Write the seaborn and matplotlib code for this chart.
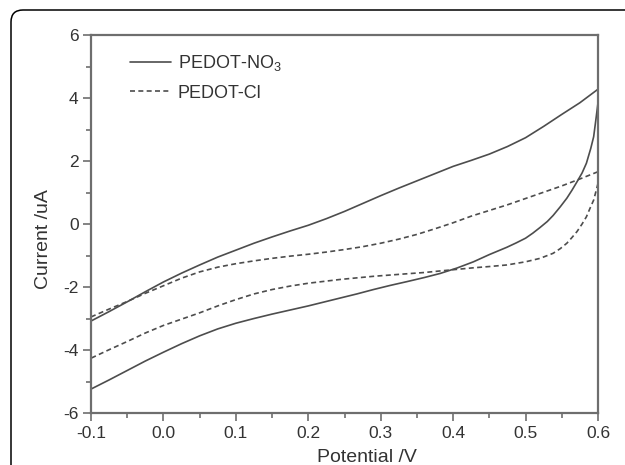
import pandas as pd
import seaborn as sns
import matplotlib.pyplot as plt
from matplotlib.patches import FancyBboxPatch
from matplotlib.ticker import MultipleLocator

# cyclic voltammograms: anodic sweep, then cathodic sweep back
no3_fwd_v = [-0.1, -0.075, -0.05, -0.025, 0.0, 0.025, 0.05, 0.075, 0.1, 0.125, 0.15, 0.175, 0.2,
             0.225, 0.25, 0.275, 0.3, 0.325, 0.35, 0.375, 0.4, 0.425, 0.45, 0.475, 0.5, 0.525,
             0.55, 0.575, 0.6]
no3_fwd_i = [-3.08, -2.78, -2.47, -2.15, -1.84, -1.56, -1.30, -1.05, -0.83, -0.61, -0.41, -0.22,
             -0.04, 0.17, 0.40, 0.65, 0.90, 1.14, 1.37, 1.60, 1.83, 2.02, 2.22, 2.46, 2.74, 3.10,
             3.48, 3.85, 4.28]
no3_ret_v = [0.6, 0.597, 0.594, 0.59, 0.584, 0.578, 0.571, 0.564, 0.557, 0.548, 0.538, 0.53, 0.52,
             0.51, 0.5, 0.487, 0.474, 0.45, 0.428, 0.405, 0.382, 0.36, 0.336, 0.313, 0.29, 0.267,
             0.244, 0.2, 0.15, 0.125, 0.1, 0.075, 0.05, 0.025, 0.0, -0.025, -0.05, -0.075, -0.1]
no3_ret_i = [3.85, 3.30, 2.77, 2.40, 1.93, 1.62, 1.34, 1.07, 0.82, 0.55, 0.27, 0.08, -0.11,
             -0.29, -0.45, -0.60, -0.74, -0.97, -1.20, -1.40, -1.57, -1.70, -1.83, -1.95, -2.08,
             -2.22, -2.35, -2.60, -2.86, -3.00, -3.15, -3.33, -3.55, -3.80, -4.07, -4.35, -4.65,
             -4.95, -5.24]

cl_fwd_v = [-0.1, -0.075, -0.05, -0.025, 0.0, 0.025, 0.05, 0.075, 0.1, 0.125, 0.15, 0.175, 0.2,
            0.225, 0.25, 0.275, 0.3, 0.325, 0.35, 0.375, 0.4, 0.425, 0.45, 0.475, 0.5, 0.525,
            0.55, 0.575, 0.6]
cl_fwd_i = [-2.95, -2.70, -2.46, -2.20, -1.96, -1.72, -1.52, -1.37, -1.26, -1.17, -1.09, -1.02,
            -0.96, -0.89, -0.81, -0.72, -0.61, -0.48, -0.33, -0.15, 0.04, 0.25, 0.43, 0.61, 0.81,
            1.01, 1.21, 1.43, 1.66]
cl_ret_v = [0.6, 0.597, 0.594, 0.589, 0.584, 0.578, 0.571, 0.564, 0.557, 0.548, 0.538, 0.52, 0.5,
            0.474, 0.45, 0.428, 0.405, 0.382, 0.36, 0.336, 0.313, 0.29, 0.267, 0.244, 0.2, 0.175,
            0.15, 0.125, 0.1, 0.075, 0.05, 0.025, 0.0, -0.025, -0.05, -0.075, -0.1]
cl_ret_i = [1.29, 1.02, 0.76, 0.50, 0.23, 0.00, -0.24, -0.43, -0.61, -0.78, -0.93, -1.09, -1.20,
            -1.30, -1.35, -1.39, -1.44, -1.49, -1.54, -1.58, -1.62, -1.66, -1.71, -1.76, -1.88,
            -1.97, -2.08, -2.22, -2.40, -2.60, -2.82, -3.02, -3.22, -3.46, -3.73, -3.99, -4.26]

labels = ['PEDOT-NO$_3$', 'PEDOT-Cl']

rows = []
for name, v, i in [(labels[0], no3_fwd_v + no3_ret_v, no3_fwd_i + no3_ret_i),
                   (labels[1], cl_fwd_v + cl_ret_v, cl_fwd_i + cl_ret_i)]:
    for vv, ii in zip(v, i):
        rows.append({'potential': vv, 'current': ii, 'sample': name})
df = pd.DataFrame(rows)

sns.set_style("ticks")
plt.rcParams['font.family'] = ['Liberation Sans', 'DejaVu Sans']
plt.rcParams['mathtext.default'] = 'regular'

fig = plt.figure(figsize=(6.25, 4.65), dpi=100)
ax = fig.add_axes([0.1456, 0.1118, 0.8112, 0.8129])

line_col = '#4d4d4d'
for name, dash in zip(labels, [None, (3, 2)]):
    sub = df[df['sample'] == name]
    sns.lineplot(x='potential', y='current', data=sub, sort=False, estimator=None,
                 color=line_col, linewidth=1.2, ax=ax, label=name)
    if dash:
        ax.lines[-1].set_dashes(dash)

ax.xaxis.set_major_locator(MultipleLocator(0.1))
ax.xaxis.set_minor_locator(MultipleLocator(0.05))
ax.yaxis.set_major_locator(MultipleLocator(2))
ax.yaxis.set_minor_locator(MultipleLocator(1))
ax.set_xticks(ax.get_xticks())
ax.set_xticklabels([f'{t:.1f}' for t in ax.get_xticks()])
ax.set_yticks(ax.get_yticks())
ax.set_yticklabels([f'{t:.0f}' for t in ax.get_yticks()])
ax.set_xlim(-0.1, 0.6)
ax.set_ylim(-6, 6)

for s in ax.spines.values():
    s.set_color('#6e6e6e')
    s.set_linewidth(1.6)
ax.tick_params(which='major', direction='out', length=6, width=1.2, color='#6e6e6e',
               labelsize=12.5, labelcolor='#333333', top=False, right=False, pad=3)
ax.tick_params(which='minor', direction='out', length=3.5, width=1.2, color='#6e6e6e',
               top=False, right=False)

ax.set_xlabel('Potential /V', fontsize=14, color='#333333')
ax.set_ylabel('Current /uA', fontsize=14, color='#333333')
ax.xaxis.set_label_coords(0.544, -0.095)
ax.yaxis.set_label_coords(-0.077, 0.46)

leg = ax.legend(loc='upper left', frameon=False, fontsize=13, handlelength=2.3,
                handletextpad=0.35, labelspacing=0.65, borderaxespad=0.0,
                bbox_to_anchor=(0.062, 0.972))
for t in leg.get_texts():
    t.set_color('#333333')

# rounded frame around the whole figure
fig.patches.append(FancyBboxPatch((11, -60), 720, 515,
                                  boxstyle="round,pad=0,rounding_size=12",
                                  transform=None, fill=False, edgecolor='black',
                                  linewidth=1.1))

fig.savefig('out.png', dpi=100)
